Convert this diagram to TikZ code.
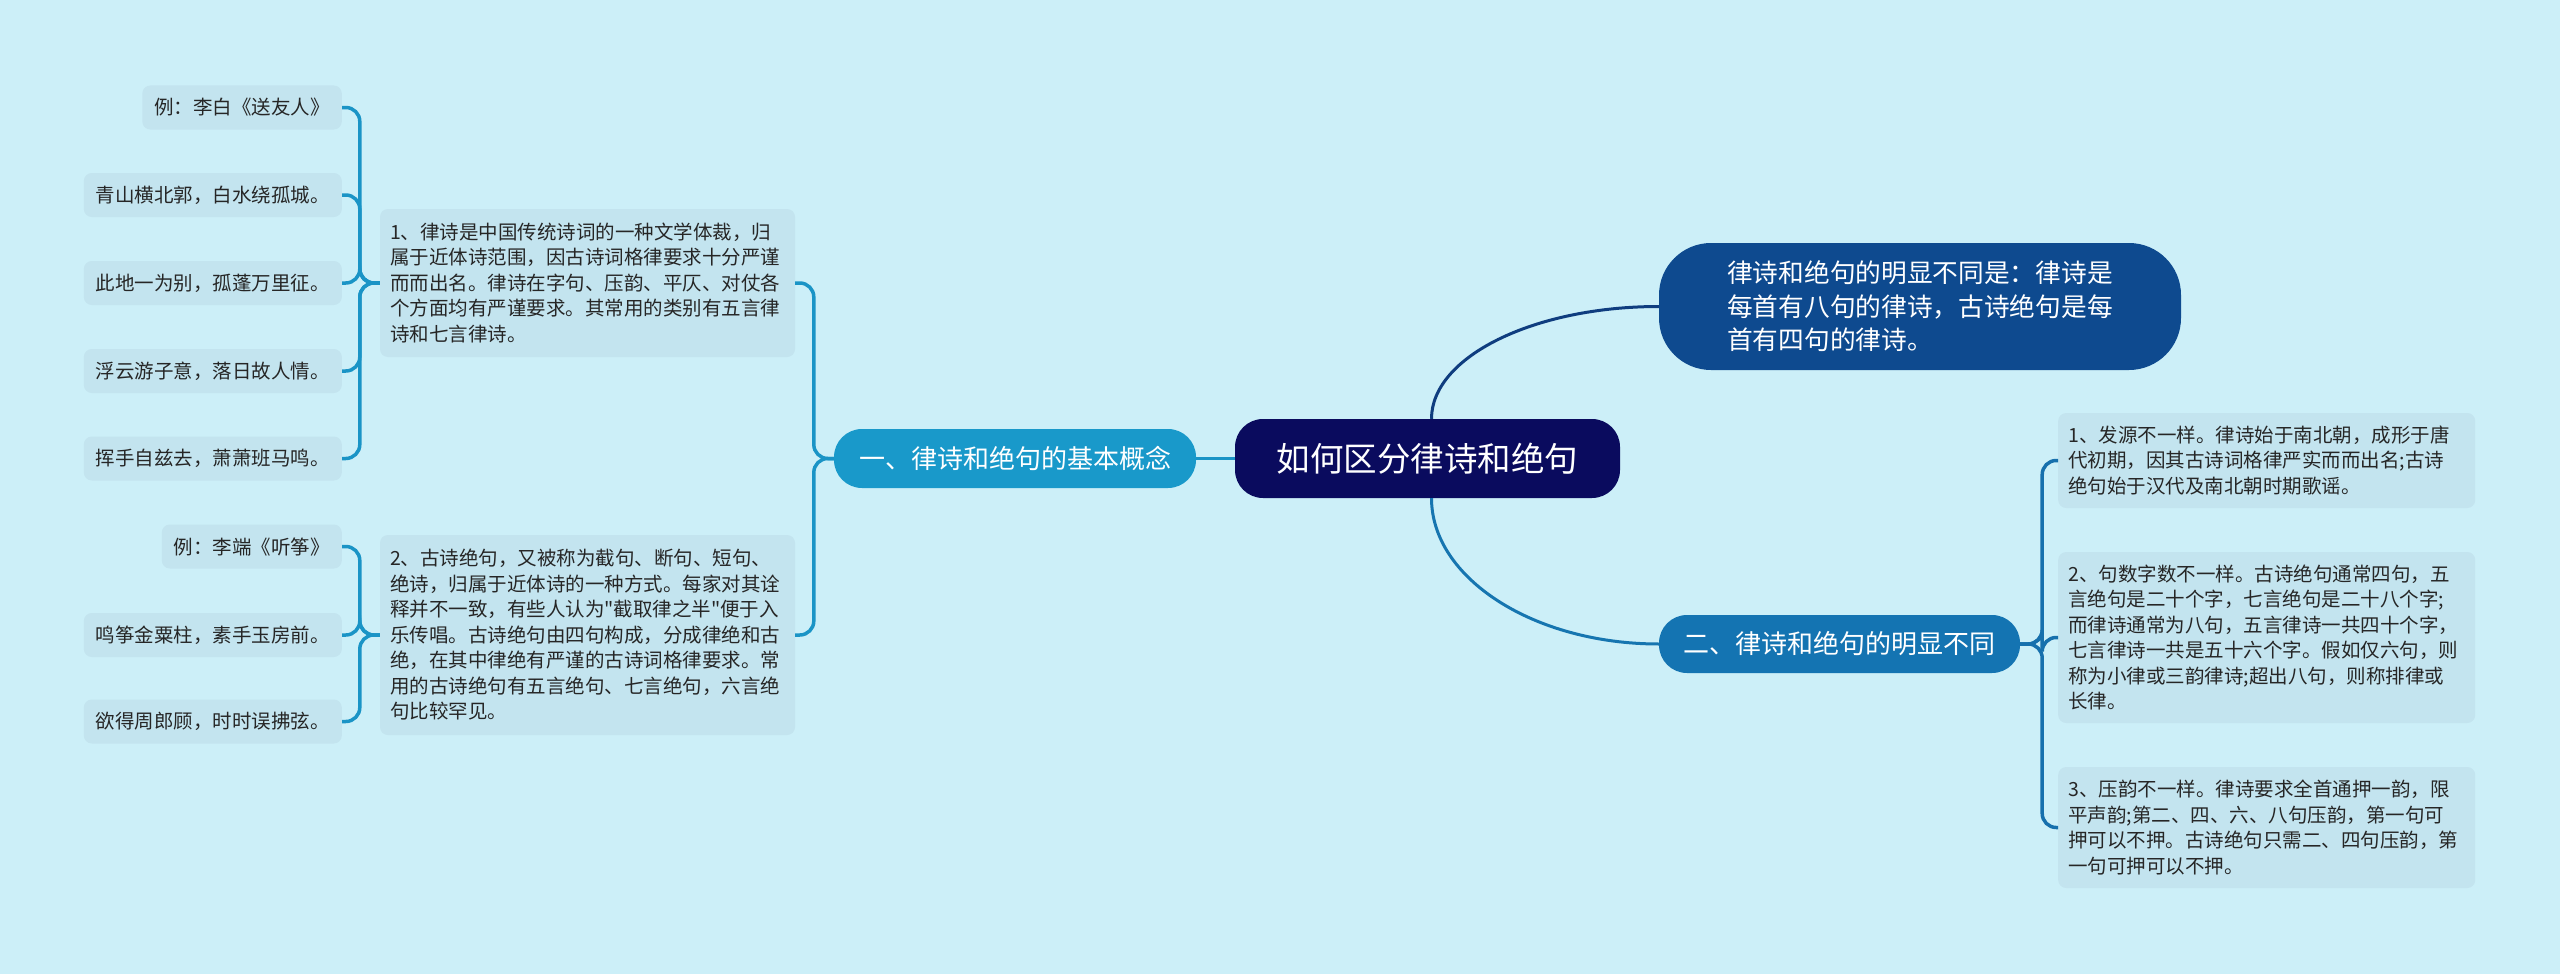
\documentclass[tikz,border=0pt]{standalone}
\usepackage{fontspec}
\setmainfont{Noto Sans CJK SC}
\newfontfamily\cjkplain{Noto Sans CJK SC}
\definecolor{bgc}{HTML}{CCEFF8}
\definecolor{leafc}{HTML}{C3E4EF}
\definecolor{rootc}{HTML}{0A0B5E}
\definecolor{topc}{HTML}{0E4A8F}
\definecolor{lonec}{HTML}{1999CA}
\definecolor{rtwoc}{HTML}{1474B2}
\definecolor{linel}{HTML}{1A94C6}
\definecolor{linetop}{HTML}{0F3D7F}
\definecolor{linebot}{HTML}{1675B0}
\definecolor{liner}{HTML}{1670AD}
\definecolor{txtc}{HTML}{262626}
\tikzset{
  rootbox/.style={fill=rootc, text=white, rounded corners=28, minimum width=385, minimum height=79, inner sep=0, font=\cjkplain\fontsize{33.5}{40}\selectfont},
  topbox/.style={fill=topc, text=white, rounded corners=52, minimum width=522, minimum height=127, inner sep=0, align=left, font=\cjkplain\fontsize{25.7}{33.5}\selectfont},
  onebox/.style={fill=lonec, text=white, rounded corners=28, minimum width=362, minimum height=59, inner sep=0, font=\cjkplain\fontsize{26}{30}\selectfont},
  twobox/.style={fill=rtwoc, text=white, rounded corners=28, minimum width=361, minimum height=58, inner sep=0, font=\cjkplain\fontsize{26}{30}\selectfont},
  parabox/.style={fill=leafc, text=txtc, rounded corners=8, inner xsep=10, inner ysep=0, align=left, font=\cjkplain\fontsize{19.5}{25.5}\selectfont},
  leafbox/.style={fill=leafc, text=txtc, rounded corners=8, inner xsep=12, inner ysep=0, minimum height=44, anchor=east, font=\cjkplain\fontsize{19.5}{24}\selectfont},
  linkl/.style={draw=linel, line width=3.5, rounded corners=14},
  linkr/.style={draw=liner, line width=3.5, rounded corners=14},
}
\begin{document}
\begin{tikzpicture}[x=1pt,y=-1pt]
\fill[bgc] (0,0) rectangle (2560,974);
\useasboundingbox (0,0) rectangle (2560,974);

\node[rootbox] (root) at (1427.5,458.5) {如何区分律诗和绝句};
\node[topbox] (top) at (1920,306.5) {律诗和绝句的明显不同是：律诗是\\每首有八句的律诗，古诗绝句是每\\首有四句的律诗。};
\node[onebox] (L1) at (1015,458.5) {一、律诗和绝句的基本概念};
\node[twobox] (R1) at (1839.5,644) {二、律诗和绝句的明显不同};

\node[parabox, text width=395, minimum height=148] (box1) at (587.5,283) {1、律诗是中国传统诗词的一种文学体裁，归\\属于近体诗范围，因古诗词格律要求十分严谨\\而而出名。律诗在字句、压韵、平仄、对仗各\\个方面均有严谨要求。其常用的类别有五言律\\诗和七言律诗。};
\node[parabox, text width=395, minimum height=200] (box2) at (587.5,635) {2、古诗绝句，又被称为截句、断句、短句、\\绝诗，归属于近体诗的一种方式。每家对其诠\\释并不一致，有些人认为"截取律之半"便于入\\乐传唱。古诗绝句由四句构成，分成律绝和古\\绝，在其中律绝有严谨的古诗词格律要求。常\\用的古诗绝句有五言绝句、七言绝句，六言绝\\句比较罕见。};

\node[leafbox] (a1) at (342,107.5) {例：李白《送友人》};
\node[leafbox] (a2) at (342,195) {青山横北郭，白水绕孤城。};
\node[leafbox] (a3) at (342,283) {此地一为别，孤蓬万里征。};
\node[leafbox] (a4) at (342,371) {浮云游子意，落日故人情。};
\node[leafbox] (a5) at (342,458.5) {挥手自兹去，萧萧班马鸣。};
\node[leafbox] (b1) at (342,546.5) {例：李端《听筝》};
\node[leafbox] (b2) at (342,635) {鸣筝金粟柱，素手玉房前。};
\node[leafbox] (b3) at (342,721.5) {欲得周郎顾，时时误拂弦。};

\node[parabox, text width=397, minimum height=95, anchor=west] (r1) at (2058,460.5) {1、发源不一样。律诗始于南北朝，成形于唐\\代初期，因其古诗词格律严实而而出名;古诗\\绝句始于汉代及南北朝时期歌谣。};
\node[parabox, text width=397, minimum height=171, anchor=west] (r2) at (2058,637.5) {2、句数字数不一样。古诗绝句通常四句，五\\言绝句是二十个字，七言绝句是二十八个字;\\而律诗通常为八句，五言律诗一共四十个字，\\七言律诗一共是五十六个字。假如仅六句，则\\称为小律或三韵律诗;超出八句，则称排律或\\长律。};
\node[parabox, text width=397, minimum height=121, anchor=west] (r3) at (2058,827.5) {3、压韵不一样。律诗要求全首通押一韵，限\\平声韵;第二、四、六、八句压韵，第一句可\\押可以不押。古诗绝句只需二、四句压韵，第\\一句可押可以不押。};

% root connectors
\draw[draw=linel, line width=3.5] (root.west) -- (L1.east);
\draw[draw=linetop, line width=3] ([xshift=4]root.north) .. controls +(0,-62) and +(-125,0) .. (top.west);
\draw[draw=linebot, line width=3] ([xshift=4]root.south) .. controls +(0,80) and +(-125,0) .. (R1.west);

% left brackets
\draw[linkl] (L1.west) -- ++(-20,0) |- (box1.east);
\draw[linkl] (L1.west) -- ++(-20,0) |- (box2.east);
\foreach \n in {a1,a2,a3,a4,a5} {
  \draw[linkl] (box1.west) -- ++(-20,0) |- (\n.east);
}
\foreach \n in {b1,b2,b3} {
  \draw[linkl] (box2.west) -- ++(-20,0) |- (\n.east);
}

% right bracket
\foreach \n in {r1,r2,r3} {
  \draw[linkr] (R1.east) -- ++(22,0) |- (\n.west);
}
\end{tikzpicture}
\end{document}
